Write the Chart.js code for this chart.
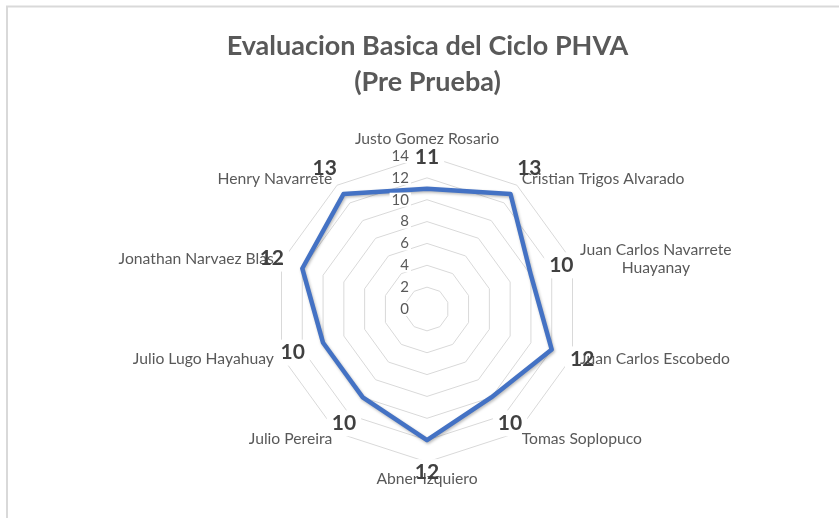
<!DOCTYPE html>
<html>
<head>
<meta charset="utf-8">
<script src="https://cdn.jsdelivr.net/npm/chart.js@4/dist/chart.umd.min.js"></script>
<style>
  html, body { margin: 0; padding: 0; background: #fff; }
  #wrap { width: 839px; height: 518px; position: relative; }
</style>
</head>
<body>
<div id="wrap"><canvas id="c" width="839" height="518"></canvas></div>
<script>
const titleLines = ['Evaluacion Basica del Ciclo PHVA', '(Pre Prueba)'];
const categories = [
  'Justo Gomez Rosario',
  'Cristian Trigos Alvarado',
  ['Juan Carlos Navarrete', 'Huayanay'],
  'Juan Carlos Escobedo',
  'Tomas Soplopuco',
  'Abner Izquiero',
  'Julio Pereira',
  'Julio Lugo Hayahuay',
  'Jonathan Narvaez Blas',
  'Henry Navarrete'
];
const scores = [11, 13, 10, 12, 10, 12, 10, 10, 12, 13];
const tickValues = [0, 2, 4, 6, 8, 10, 12, 14];
const tickLabels = ['0', '2', '4', '6', '8', '10', '12', '14'];

const FONT = 'Lato, Carlito, Calibri, "Open Sans", sans-serif';
const GRAY = '#595959';

const frame = {
  id: 'frame',
  beforeDraw(chart) {
    const ctx = chart.ctx;
    ctx.save();
    ctx.strokeStyle = '#d9d9d9';
    ctx.lineWidth = 2;
    ctx.strokeRect(7, 6.5, 1000, 1000);
    ctx.restore();
  }
};

const lineShadow = {
  id: 'lineShadow',
  beforeDatasetsDraw(chart) {
    const ctx = chart.ctx;
    ctx.save();
    ctx.shadowColor = 'rgba(0,0,0,0.28)';
    ctx.shadowBlur = 3;
    ctx.shadowOffsetX = 1;
    ctx.shadowOffsetY = 1.5;
  },
  afterDatasetsDraw(chart) {
    chart.ctx.restore();
  }
};

const labelsPlugin = {
  id: 'labelsPlugin',
  afterDraw(chart) {
    const ctx = chart.ctx;
    const s = chart.scales.r;
    ctx.save();

    // tick labels
    ctx.font = '15px ' + FONT;
    ctx.textAlign = 'right';
    ctx.textBaseline = 'middle';
    tickValues.forEach((v, k) => {
      const y = s.yCenter - s.getDistanceFromCenterForValue(v);
      const x = s.xCenter - 18;
      const w = ctx.measureText(tickLabels[k]).width;
      ctx.fillStyle = '#fff';
      ctx.fillRect(x - w - 2, y - 7, w + 4, 14);
      ctx.fillStyle = GRAY;
      ctx.fillText(tickLabels[k], x, y);
    });

    const valFont = 'bold 21px ' + FONT;
    const valPos = scores.map((v, i) => s.getPointPosition(i, s.getDistanceFromCenterForValue(v) + 32));

    // white boxes behind value labels
    ctx.font = valFont;
    ctx.fillStyle = '#fff';
    valPos.forEach((p, i) => {
      const w = ctx.measureText(String(scores[i])).width;
      ctx.fillRect(p.x - w / 2 - 5, p.y - 13, w + 10, 26);
    });

    // category labels
    ctx.font = '15.7px ' + FONT;
    ctx.fillStyle = GRAY;
    const lh = 18;
    categories.forEach((lab, i) => {
      const lines = Array.isArray(lab) ? lab : [lab];
      const deg = Math.round(i * 360 / categories.length);
      const p = s.getPointPosition(i, s.drawingArea + 8);
      const widths = lines.map(t => ctx.measureText(t).width);
      const maxW = Math.max(...widths);
      const blockH = lines.length * lh;
      let cx, top;
      if (deg === 0) { cx = p.x; top = p.y - blockH; }
      else if (deg === 180) { cx = p.x; top = p.y; }
      else if (deg < 180) { cx = p.x + maxW / 2; top = p.y - blockH / 2; }
      else { cx = p.x - maxW / 2; top = p.y - blockH / 2; }
      ctx.textAlign = 'center';
      ctx.textBaseline = 'middle';
      lines.forEach((t, k) => ctx.fillText(t, cx, top + lh * k + lh / 2));
    });

    // value labels
    ctx.font = valFont;
    ctx.fillStyle = '#404040';
    ctx.textAlign = 'center';
    ctx.textBaseline = 'middle';
    valPos.forEach((p, i) => ctx.fillText(String(scores[i]), p.x, p.y));

    ctx.restore();
  }
};

new Chart(document.getElementById('c'), {
  type: 'radar',
  data: {
    labels: categories,
    datasets: [{
      label: 'Pre Prueba',
      data: scores,
      borderColor: '#4472C4',
      borderWidth: 4.5,
      backgroundColor: 'rgba(0,0,0,0)',
      fill: false,
      pointRadius: 0,
      pointHoverRadius: 0,
      tension: 0,
      borderJoinStyle: 'round'
    }]
  },
  options: {
    responsive: false,
    devicePixelRatio: 1,
    animation: false,
    layout: { padding: { left: 16, right: 0, top: 0, bottom: 56 } },
    plugins: {
      legend: { display: false },
      tooltip: { enabled: false },
      title: {
        display: true,
        text: titleLines,
        color: GRAY,
        font: { family: FONT, size: 27, weight: 'bold', lineHeight: '36px' },
        padding: { top: 28, bottom: 56 }
      }
    },
    scales: {
      r: {
        min: 0,
        max: 14,
        ticks: { stepSize: 2, display: false },
        grid: { color: '#d9d9d9', lineWidth: 1 },
        angleLines: { display: false },
        pointLabels: { display: false }
      }
    }
  },
  plugins: [frame, lineShadow, labelsPlugin]
});
</script>
</body>
</html>
